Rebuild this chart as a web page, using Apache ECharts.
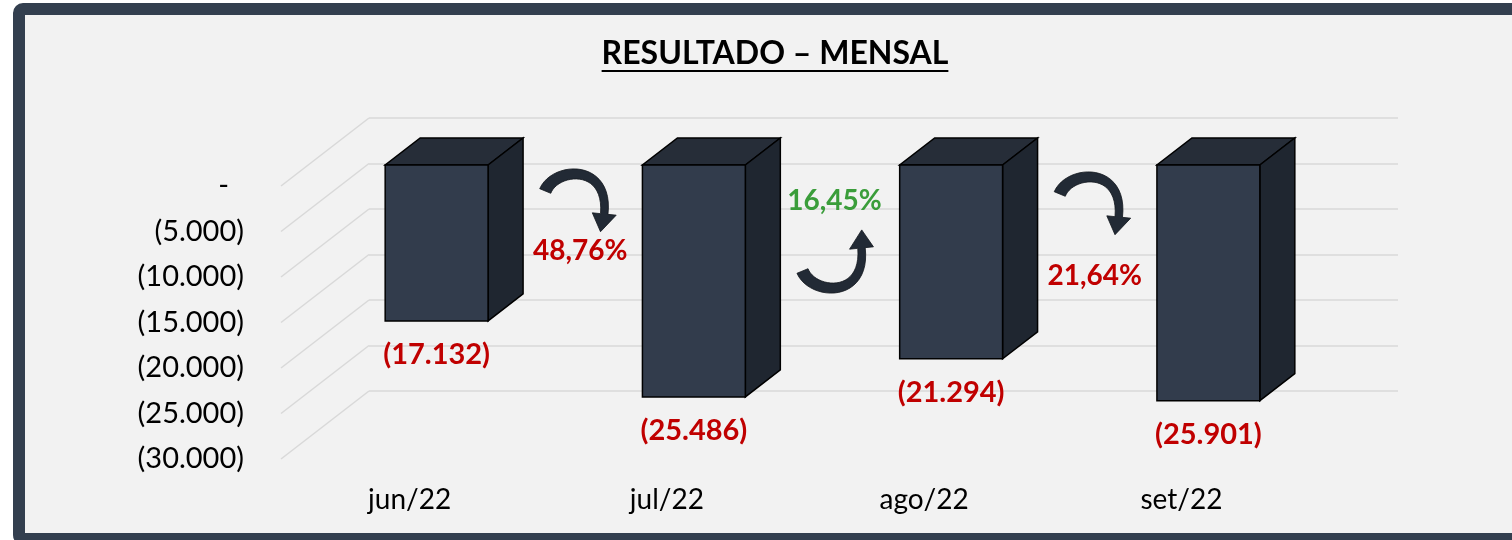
<!DOCTYPE html>
<html>
<head>
<meta charset="utf-8">
<title>Resultado – Mensal</title>
<script src="https://cdn.jsdelivr.net/npm/echarts@6/dist/echarts.min.js"></script>
<style>
  html, body { margin: 0; padding: 0; background: #ffffff; }
  #chart { width: 1512px; height: 540px; }
</style>
</head>
<body>
<div id="chart"></div>
<script>
// dados
const meses = ['jun/22', 'jul/22', 'ago/22', 'set/22'];
const resultado = [-17132, -25486, -21294, -25901];
const rotulosY = ['-', '(5.000)', '(10.000)', '(15.000)', '(20.000)', '(25.000)', '(30.000)'];
const variacoes = ['48,76%', '16,45%', '21,64%'];
const piorou = [true, false, true];

// layout / estilo
const FONT = 'Lato';
const PROF = { dx: 88, dy: -68 };       // profundidade total do "piso"
const FACE = { dx: 27, dy: -21 };       // frente da barra dentro da profundidade
const CAIXA = { dx: 35, dy: -27 };      // profundidade da barra
const NOTA = [                           // posição das setas relativa à linha zero
  { tail: 5, label: 65, lx: 15 },
  { tail: 85, label: 15, lx: 12 },
  { tail: 8, label: 90, lx: 15 }
];
const COR_FRENTE = '#323c4c';
const COR_TOPO = '#262d38';
const COR_LADO = '#1f2630';
const COR_SETA = '#222a35';
const VERMELHO = '#c00000';
const VERDE = '#3a9d3a';
const GRADE = '#d9d9d9';

function milhar(v) {
  return String(Math.abs(v)).replace(/\B(?=(\d{3})+(?!\d))/g, '.');
}

const chart = echarts.init(document.getElementById('chart'));

function barra3d(params, api) {
  const i = api.value(0);
  const v = api.value(1);
  const base = api.coord([i, 0]);
  const fim = api.coord([i, v]);
  const band = api.size([1, 0])[0];
  const w = band * 0.4;
  const x0 = base[0] + FACE.dx - w / 2;
  const x1 = x0 + w;
  const y0 = base[1] + FACE.dy;
  const y1 = fim[1] + FACE.dy;
  const bx = CAIXA.dx, by = CAIXA.dy;
  const borda = { stroke: '#000000', lineWidth: 1.5 };
  return {
    type: 'group',
    children: [
      { type: 'polygon', shape: { points: [[x0, y0], [x1, y0], [x1 + bx, y0 + by], [x0 + bx, y0 + by]] },
        style: Object.assign({ fill: COR_TOPO }, borda) },
      { type: 'polygon', shape: { points: [[x1, y0], [x1 + bx, y0 + by], [x1 + bx, y1 + by], [x1, y1]] },
        style: Object.assign({ fill: COR_LADO }, borda) },
      { type: 'rect', shape: { x: x0, y: y0, width: w, height: y1 - y0 },
        style: Object.assign({ fill: COR_FRENTE }, borda) },
      { type: 'text', style: {
          text: '(' + milhar(v) + ')', x: (x0 + x1) / 2, y: y1 + 34,
          align: 'center', verticalAlign: 'middle', textAlign: 'center', textVerticalAlign: 'middle',
          fill: VERMELHO, fontFamily: FONT, fontWeight: 'bold', fontSize: 29 } }
    ]
  };
}

// ponto e tangente de uma bezier cúbica
function bez(t, a, b, c, d) {
  const u = 1 - t;
  return [
    u * u * u * a[0] + 3 * u * u * t * b[0] + 3 * u * t * t * c[0] + t * t * t * d[0],
    u * u * u * a[1] + 3 * u * u * t * b[1] + 3 * u * t * t * c[1] + t * t * t * d[1]
  ];
}
function tang(t, a, b, c, d) {
  const u = 1 - t;
  const x = 3 * u * u * (b[0] - a[0]) + 6 * u * t * (c[0] - b[0]) + 3 * t * t * (d[0] - c[0]);
  const y = 3 * u * u * (b[1] - a[1]) + 6 * u * t * (c[1] - b[1]) + 3 * t * t * (d[1] - c[1]);
  const l = Math.hypot(x, y) || 1;
  return [x / l, y / l];
}

function seta(params, api) {
  const i = api.value(0);
  const base = api.coord([i, 0]);
  const band = api.size([1, 0])[0];
  const gx = base[0] + band / 2 + FACE.dx;
  const n = NOTA[i];
  const tx = gx - 20;
  const ty = base[1] + n.tail;
  const s = piorou[i] ? 1 : -1;   // 1 = seta para baixo, -1 = para cima
  const p = (x, y) => [tx + x, ty + s * y];
  const a = p(0, 0), b = p(10, -24), c = p(64, -28), d = p(59, 23);
  const lado1 = [], lado2 = [];
  const N = 24;
  for (let k = 0; k <= N; k++) {
    const t = k / N;
    const q = bez(t, a, b, c, d);
    const tg = tang(t, a, b, c, d);
    const hw = (12 - 4.5 * t) / 2;
    lado1.push([q[0] - tg[1] * hw, q[1] + tg[0] * hw]);
    lado2.push([q[0] + tg[1] * hw, q[1] - tg[0] * hw]);
  }
  const te = tang(1, a, b, c, d);
  const asa = 12;
  const ponta = [d[0] + te[0] * 18 - te[1] * 2, d[1] + te[1] * 18 + te[0] * 2];
  const pts = lado1.concat([
    [d[0] - te[1] * asa, d[1] + te[0] * asa],
    ponta,
    [d[0] + te[1] * asa, d[1] - te[0] * asa]
  ], lado2.reverse());
  return {
    type: 'group',
    children: [
      { type: 'polygon', shape: { points: pts },
        style: { fill: COR_SETA, stroke: '#11161d', lineWidth: 0.8 } },
      { type: 'text', style: {
          text: variacoes[i], x: gx + n.lx, y: base[1] + n.label,
          align: 'center', verticalAlign: 'middle', textAlign: 'center', textVerticalAlign: 'middle',
          fill: piorou[i] ? VERMELHO : VERDE, fontFamily: FONT, fontWeight: 'bold', fontSize: 28 } }
    ]
  };
}

function linhasLaterais(params, api) {
  const v = api.value(1);
  const p = api.coord([0, v]);
  const x = params.coordSys.x;
  return {
    type: 'line',
    shape: { x1: x, y1: p[1], x2: x + PROF.dx, y2: p[1] + PROF.dy },
    style: { stroke: GRADE, lineWidth: 1.5 }
  };
}

const ticks = rotulosY.map((_, k) => -5000 * k);

// largura do título para o sublinhado
const TITULO = 'RESULTADO – MENSAL';
const TITULO_X = 775;
const ctx = document.createElement('canvas').getContext('2d');
ctx.font = 'bold 32px ' + FONT;
const larguraTitulo = ctx.measureText(TITULO).width;

const option = {
  animation: false,
  backgroundColor: '#ffffff',
  graphic: [
    { type: 'rect', z: -10, shape: { x: 19, y: 9, width: 1520, height: 530, r: 4 },
      style: { fill: '#f2f2f2', stroke: '#333f4f', lineWidth: 12 } },
    { type: 'text', x: TITULO_X, y: 54, z: 10,
      style: { text: TITULO, fill: '#000000', fontFamily: FONT, fontWeight: 'bold', fontSize: 32,
               align: 'center', verticalAlign: 'middle', textAlign: 'center', textVerticalAlign: 'middle' } },
    { type: 'line', z: 10,
      shape: { x1: TITULO_X - larguraTitulo / 2, y1: 71, x2: TITULO_X + larguraTitulo / 2, y2: 71 },
      style: { stroke: '#000000', lineWidth: 2 } }
  ],
  grid: [
    { left: 281, top: 186, width: 1029, height: 273 },
    { left: 281 + PROF.dx, top: 186 + PROF.dy, width: 1029, height: 273 }
  ],
  xAxis: [
    { type: 'category', gridIndex: 0, data: meses,
      axisLine: { show: false }, axisTick: { show: false },
      axisLabel: { margin: 27, color: '#000000', fontFamily: FONT, fontSize: 28 } },
    { type: 'category', gridIndex: 1, data: meses, show: false }
  ],
  yAxis: [
    { type: 'value', gridIndex: 0, min: -30000, max: 0, interval: 5000,
      axisLine: { show: false }, axisTick: { show: false }, splitLine: { show: false },
      axisLabel: {
        margin: 37, color: '#000000', fontFamily: FONT, fontSize: 29,
        formatter: v => {
          const k = Math.round(-v / 5000);
          return k === 0 ? '{z|' + rotulosY[k] + '}' : rotulosY[k];
        },
        rich: { z: { padding: [0, 15, 0, 0], fontFamily: FONT, fontSize: 29, color: '#000000' } }
      } },
    { type: 'value', gridIndex: 1, min: -30000, max: 0, interval: 5000,
      axisLine: { show: false }, axisTick: { show: false }, axisLabel: { show: false },
      splitLine: { show: true, lineStyle: { color: GRADE, width: 1.5 } } }
  ],
  series: [
    { type: 'custom', name: 'grade', xAxisIndex: 0, yAxisIndex: 0, z: 1, silent: true,
      renderItem: linhasLaterais, data: ticks.map(t => [0, t]) },
    { type: 'custom', name: 'Resultado', xAxisIndex: 0, yAxisIndex: 0, z: 5,
      renderItem: barra3d, data: resultado.map((v, i) => [i, v]) },
    { type: 'custom', name: 'Variação', xAxisIndex: 0, yAxisIndex: 0, z: 6,
      renderItem: seta, data: variacoes.map((_, i) => [i, 0]) }
  ]
};

chart.setOption(option);
</script>
</body>
</html>
